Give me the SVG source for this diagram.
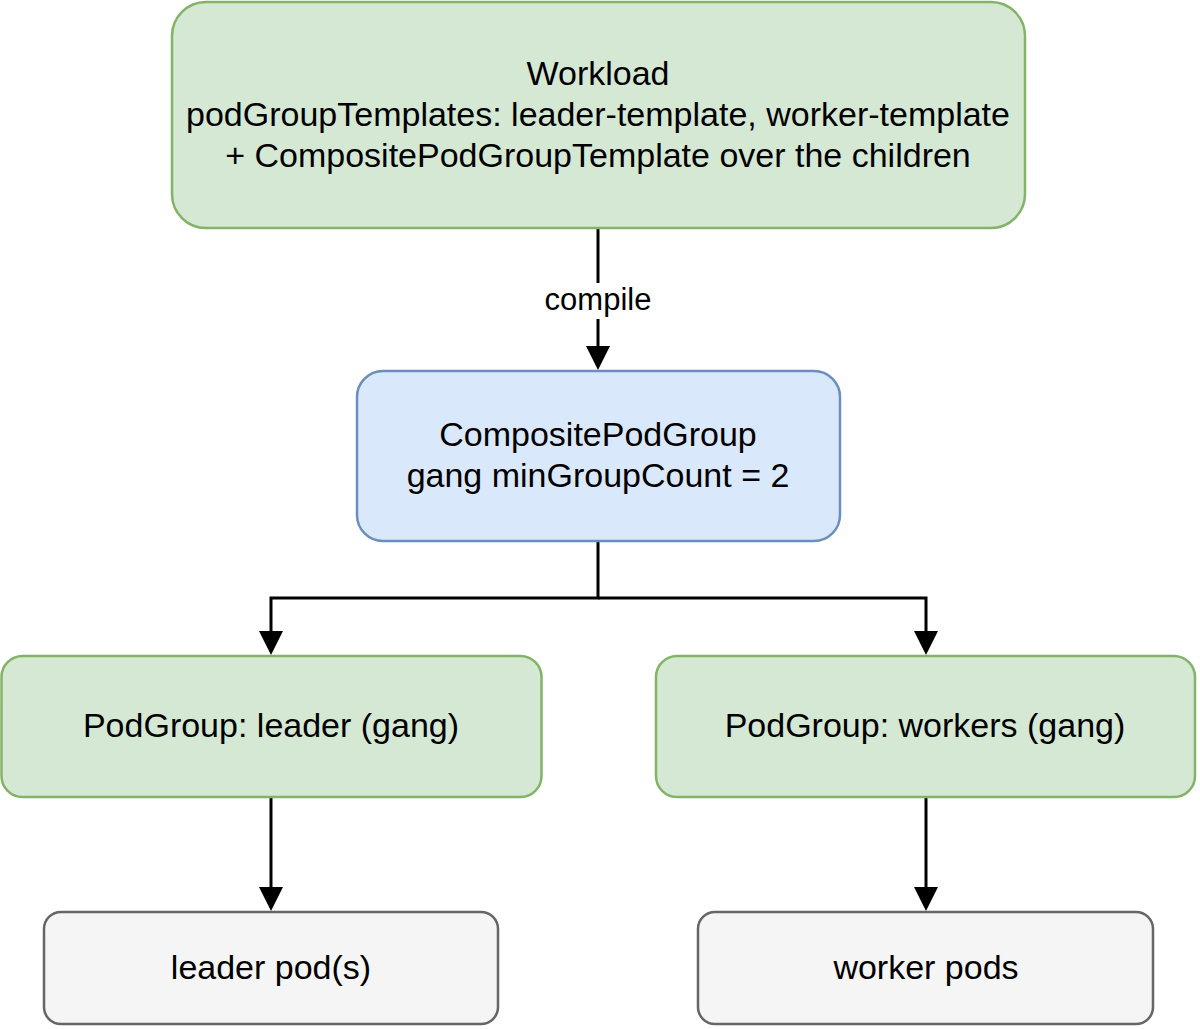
<svg xmlns="http://www.w3.org/2000/svg" width="1200" height="1029" viewBox="0 0 1200 1029">
<defs>
<style>
.green{fill:#d5e8d4;stroke:#82b366;stroke-width:2.5}
.blue{fill:#dae8fc;stroke:#6c8ebf;stroke-width:2.5}
.grey{fill:#f5f5f5;stroke:#666666;stroke-width:2.5}
text{font-family:"Liberation Sans",Arial,sans-serif;font-size:34px;fill:#000;text-anchor:middle}
.lbl{font-size:31px}
.edge{fill:none;stroke:#000;stroke-width:3}
</style>
</defs>
<rect width="1200" height="1029" fill="#fff"/>
<g id="connectors">
<path class="edge" d="M598,229 V346"/>
<path d="M586,346 L610,346 L598,370 Z" fill="#000"/>
<rect x="540" y="283" width="116" height="36" fill="#fff"/>
<text class="lbl" x="598" y="310">compile</text>
<path class="edge" d="M598,542 V598 H271 V631"/>
<path d="M259,631 L283,631 L271,655 Z" fill="#000"/>
<path class="edge" d="M598,598 H926 V631"/>
<path d="M914,631 L938,631 L926,655 Z" fill="#000"/>
<path class="edge" d="M271,798 V887"/>
<path d="M259,887 L283,887 L271,911 Z" fill="#000"/>
<path class="edge" d="M926,798 V887"/>
<path d="M914,887 L938,887 L926,911 Z" fill="#000"/>
</g>
<g id="workload">
<rect class="green" x="172" y="2" width="853" height="226" rx="34"/>
<text x="598" y="85">Workload</text>
<text x="598" y="126">podGroupTemplates: leader-template, worker-template</text>
<text x="598" y="167">+ CompositePodGroupTemplate over the children</text>
</g>
<g id="composite">
<rect class="blue" x="357" y="371" width="483" height="170" rx="26"/>
<text x="598" y="446">CompositePodGroup</text>
<text x="598" y="487">gang minGroupCount = 2</text>
</g>
<g id="pg-leader">
<rect class="green" x="1.5" y="656" width="540" height="141" rx="21"/>
<text x="271" y="737">PodGroup: leader (gang)</text>
</g>
<g id="pg-workers">
<rect class="green" x="656" y="656" width="539" height="141" rx="21"/>
<text x="925" y="737">PodGroup: workers (gang)</text>
</g>
<g id="leader-pods">
<rect class="grey" x="44" y="912" width="454" height="112" rx="17"/>
<text x="271" y="979">leader pod(s)</text>
</g>
<g id="worker-pods">
<rect class="grey" x="698" y="912" width="455" height="112" rx="17"/>
<text x="926" y="979">worker pods</text>
</g>
</svg>
